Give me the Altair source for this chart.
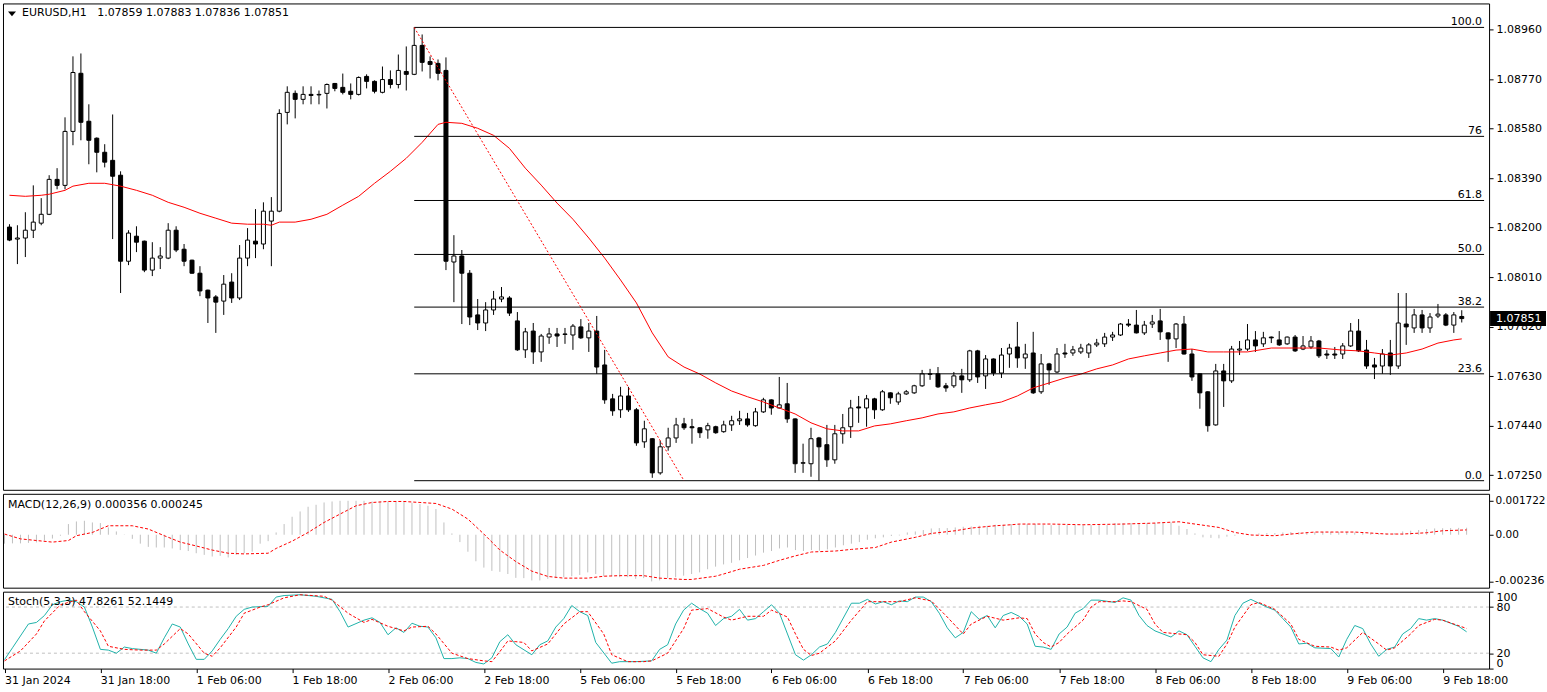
import altair as alt
import pandas as pd

# ---------------- data ----------------
open_ = [
    1.08202, 1.08156, 1.08160, 1.08190, 1.08217, 1.08251, 1.08385, 1.08362, 1.08569, 1.08792,
    1.08608, 1.08543, 1.08489, 1.08458, 1.08401, 1.08071, 1.08167, 1.08148, 1.08037, 1.08083,
    1.08083, 1.08190, 1.08117, 1.08075, 1.08025, 1.07960, 1.07934, 1.07918, 1.07991, 1.07930,
    1.08083, 1.08148, 1.08137, 1.08225, 1.08263, 1.08642, 1.08715, 1.08692, 1.08711, 1.08709,
    1.08715, 1.08753, 1.08738, 1.08723, 1.08711, 1.08780, 1.08761, 1.08719, 1.08768, 1.08749,
    1.08799, 1.08788, 1.08899, 1.08837, 1.08830, 1.08803, 1.08068, 1.08091, 1.08025, 1.07865,
    1.07834, 1.07884, 1.07926, 1.07930, 1.07842, 1.07731, 1.07803, 1.07723, 1.07780, 1.07792,
    1.07790, 1.07788, 1.07819, 1.07777, 1.07803, 1.07673, 1.07543, 1.07501, 1.07554, 1.07501,
    1.07378, 1.07390, 1.07259, 1.07359, 1.07393, 1.07447, 1.07436, 1.07432, 1.07424, 1.07436,
    1.07417, 1.07443, 1.07459, 1.07466, 1.07440, 1.07493, 1.07539, 1.07508, 1.07524, 1.07466,
    1.07296, 1.07294, 1.07393, 1.07367, 1.07309, 1.07409, 1.07436, 1.07512, 1.07508, 1.07543,
    1.07501, 1.07566, 1.07531, 1.07562, 1.07566, 1.07593, 1.07637, 1.07639, 1.07593, 1.07593,
    1.07631, 1.07616, 1.07727, 1.07631, 1.07696, 1.07642, 1.07715, 1.07742, 1.07700, 1.07719,
    1.07570, 1.07677, 1.07646, 1.07719, 1.07719, 1.07723, 1.07719, 1.07750, 1.07754, 1.07780,
    1.07788, 1.07830, 1.07826, 1.07796, 1.07830, 1.07842, 1.07796, 1.07773, 1.07830, 1.07715,
    1.07639, 1.07570, 1.07443, 1.07650, 1.07612, 1.07730, 1.07734, 1.07769, 1.07754, 1.07780,
    1.07769, 1.07754, 1.07780, 1.07734, 1.07742, 1.07765, 1.07715, 1.07715, 1.07715, 1.07746,
    1.07803, 1.07730, 1.07673, 1.07669, 1.07719, 1.07669, 1.07830, 1.07815, 1.07865, 1.07815,
    1.07861, 1.07865, 1.07826, 1.07859,
]
high = [
    1.08213, 1.08209, 1.08259, 1.08362, 1.08313, 1.08401, 1.08428, 1.08623, 1.08857, 1.08868,
    1.08673, 1.08546, 1.08520, 1.08634, 1.08416, 1.08190, 1.08205, 1.08150, 1.08144, 1.08125,
    1.08217, 1.08205, 1.08137, 1.08077, 1.08052, 1.07962, 1.07941, 1.08018, 1.08025, 1.08133,
    1.08198, 1.08271, 1.08297, 1.08317, 1.08654, 1.08742, 1.08726, 1.08742, 1.08742, 1.08726,
    1.08753, 1.08755, 1.08791, 1.08753, 1.08780, 1.08788, 1.08765, 1.08818, 1.08803, 1.08864,
    1.08895, 1.08968, 1.08941, 1.08857, 1.08845, 1.08853, 1.08171, 1.08114, 1.08037, 1.07926,
    1.07914, 1.07957, 1.07972, 1.07937, 1.07876, 1.07815, 1.07834, 1.07792, 1.07815, 1.07815,
    1.07815, 1.07830, 1.07849, 1.07834, 1.07861, 1.07731, 1.07562, 1.07589, 1.07589, 1.07508,
    1.07459, 1.07392, 1.07382, 1.07432, 1.07470, 1.07470, 1.07466, 1.07434, 1.07451, 1.07440,
    1.07459, 1.07478, 1.07497, 1.07489, 1.07508, 1.07547, 1.07541, 1.07627, 1.07604, 1.07468,
    1.07371, 1.07432, 1.07397, 1.07443, 1.07443, 1.07485, 1.07539, 1.07554, 1.07558, 1.07547,
    1.07577, 1.07568, 1.07570, 1.07577, 1.07597, 1.07654, 1.07658, 1.07665, 1.07604, 1.07646,
    1.07658, 1.07731, 1.07731, 1.07711, 1.07698, 1.07738, 1.07754, 1.07838, 1.07754, 1.07800,
    1.07715, 1.07681, 1.07738, 1.07754, 1.07746, 1.07754, 1.07757, 1.07773, 1.07796, 1.07800,
    1.07834, 1.07849, 1.07884, 1.07842, 1.07865, 1.07888, 1.07798, 1.07834, 1.07861, 1.07734,
    1.07641, 1.07572, 1.07677, 1.07677, 1.07746, 1.07765, 1.07830, 1.07803, 1.07800, 1.07782,
    1.07803, 1.07782, 1.07788, 1.07784, 1.07784, 1.07769, 1.07730, 1.07742, 1.07757, 1.07834,
    1.07849, 1.07769, 1.07700, 1.07734, 1.07769, 1.07949, 1.07949, 1.07888, 1.07884, 1.07872,
    1.07907, 1.07872, 1.07876, 1.07883,
]
low = [
    1.08148, 1.08060, 1.08087, 1.08160, 1.08209, 1.08248, 1.08347, 1.08347, 1.08516, 1.08535,
    1.08443, 1.08412, 1.08431, 1.08156, 1.07949, 1.08056, 1.08106, 1.08029, 1.08014, 1.08041,
    1.08079, 1.08106, 1.08052, 1.08023, 1.07937, 1.07834, 1.07796, 1.07865, 1.07911, 1.07922,
    1.08052, 1.08083, 1.08117, 1.08052, 1.08259, 1.08596, 1.08619, 1.08673, 1.08673, 1.08673,
    1.08657, 1.08723, 1.08711, 1.08692, 1.08707, 1.08734, 1.08715, 1.08715, 1.08734, 1.08734,
    1.08726, 1.08785, 1.08799, 1.08772, 1.08765, 1.08037, 1.07914, 1.07830, 1.07826, 1.07807,
    1.07803, 1.07865, 1.07914, 1.07861, 1.07727, 1.07700, 1.07677, 1.07685, 1.07754, 1.07742,
    1.07754, 1.07731, 1.07773, 1.07723, 1.07639, 1.07524, 1.07478, 1.07470, 1.07493, 1.07363,
    1.07355, 1.07240, 1.07252, 1.07344, 1.07374, 1.07424, 1.07371, 1.07393, 1.07390, 1.07409,
    1.07413, 1.07420, 1.07443, 1.07436, 1.07436, 1.07489, 1.07482, 1.07506, 1.07451, 1.07259,
    1.07259, 1.07244, 1.07229, 1.07282, 1.07294, 1.07371, 1.07393, 1.07451, 1.07436, 1.07466,
    1.07497, 1.07524, 1.07520, 1.07558, 1.07562, 1.07589, 1.07616, 1.07585, 1.07570, 1.07585,
    1.07566, 1.07608, 1.07604, 1.07581, 1.07631, 1.07623, 1.07662, 1.07662, 1.07658, 1.07562,
    1.07562, 1.07597, 1.07642, 1.07700, 1.07708, 1.07715, 1.07700, 1.07742, 1.07742, 1.07765,
    1.07784, 1.07819, 1.07794, 1.07788, 1.07815, 1.07769, 1.07685, 1.07738, 1.07713, 1.07612,
    1.07505, 1.07417, 1.07440, 1.07512, 1.07604, 1.07711, 1.07727, 1.07723, 1.07742, 1.07757,
    1.07746, 1.07750, 1.07723, 1.07730, 1.07734, 1.07700, 1.07696, 1.07696, 1.07696, 1.07742,
    1.07723, 1.07658, 1.07619, 1.07639, 1.07635, 1.07658, 1.07750, 1.07796, 1.07796, 1.07796,
    1.07853, 1.07822, 1.07796, 1.07836,
]
close = [
    1.08152, 1.08160, 1.08190, 1.08221, 1.08251, 1.08385, 1.08362, 1.08569, 1.08795, 1.08604,
    1.08535, 1.08489, 1.08451, 1.08397, 1.08071, 1.08179, 1.08144, 1.08037, 1.08083, 1.08091,
    1.08190, 1.08114, 1.08071, 1.08025, 1.07957, 1.07930, 1.07914, 1.07983, 1.07930, 1.08083,
    1.08152, 1.08137, 1.08263, 1.08263, 1.08638, 1.08719, 1.08692, 1.08711, 1.08707, 1.08711,
    1.08749, 1.08734, 1.08719, 1.08711, 1.08776, 1.08761, 1.08723, 1.08768, 1.08749, 1.08803,
    1.08788, 1.08899, 1.08834, 1.08826, 1.08792, 1.08071, 1.08091, 1.08025, 1.07857, 1.07834,
    1.07884, 1.07926, 1.07934, 1.07872, 1.07731, 1.07800, 1.07723, 1.07784, 1.07792, 1.07784,
    1.07792, 1.07822, 1.07777, 1.07803, 1.07665, 1.07539, 1.07497, 1.07554, 1.07501, 1.07374,
    1.07428, 1.07259, 1.07359, 1.07393, 1.07443, 1.07432, 1.07432, 1.07413, 1.07440, 1.07413,
    1.07443, 1.07459, 1.07466, 1.07443, 1.07493, 1.07539, 1.07508, 1.07520, 1.07466, 1.07294,
    1.07298, 1.07390, 1.07359, 1.07309, 1.07409, 1.07432, 1.07508, 1.07508, 1.07543, 1.07501,
    1.07570, 1.07547, 1.07562, 1.07570, 1.07593, 1.07639, 1.07639, 1.07589, 1.07585, 1.07631,
    1.07616, 1.07727, 1.07627, 1.07696, 1.07642, 1.07711, 1.07738, 1.07700, 1.07715, 1.07566,
    1.07677, 1.07654, 1.07715, 1.07715, 1.07731, 1.07738, 1.07750, 1.07757, 1.07780, 1.07788,
    1.07830, 1.07826, 1.07796, 1.07826, 1.07838, 1.07800, 1.07773, 1.07830, 1.07715, 1.07627,
    1.07566, 1.07440, 1.07650, 1.07612, 1.07734, 1.07734, 1.07769, 1.07746, 1.07777, 1.07777,
    1.07750, 1.07780, 1.07727, 1.07746, 1.07765, 1.07708, 1.07711, 1.07711, 1.07746, 1.07803,
    1.07727, 1.07669, 1.07665, 1.07715, 1.07669, 1.07834, 1.07819, 1.07865, 1.07815, 1.07857,
    1.07868, 1.07826, 1.07865, 1.07851,
]

# moving average (red solid line)
ma_bar = [0, 2, 4, 5, 7, 8, 10, 12, 14, 16, 18, 20, 22, 24, 26, 28, 30, 32, 33, 34,
          36, 38, 40, 42, 44, 46, 48, 50, 52, 54, 55, 57, 59, 61, 63, 65, 67, 69, 71, 73,
          75, 77, 79, 81, 83, 85, 87, 89, 91, 93, 95, 97, 99, 101, 103, 105, 107, 109, 111, 113,
          115, 117, 119, 121, 123, 125, 127, 129, 131, 133, 135, 137, 139, 141, 143, 145, 147, 149, 151, 153,
          156, 159, 162, 165, 168, 170, 172, 174, 176, 178, 180, 182, 183]
ma_price = [1.08324, 1.08320, 1.08324, 1.08328, 1.08343, 1.08359, 1.08370, 1.08370, 1.08359, 1.08343,
            1.08324, 1.08297, 1.08278, 1.08255, 1.08236, 1.08217, 1.08213, 1.08213, 1.08209, 1.08221,
            1.08221, 1.08232, 1.08251, 1.08286, 1.08320, 1.08370, 1.08416, 1.08466, 1.08527, 1.08596,
            1.08604, 1.08600, 1.08581, 1.08554, 1.08504, 1.08428, 1.08363, 1.08294, 1.08232, 1.08160,
            1.08083, 1.07999, 1.07911, 1.07796, 1.07704, 1.07665, 1.07638, 1.07604, 1.07573, 1.07551,
            1.07531, 1.07508, 1.07485, 1.07451, 1.07428, 1.07420, 1.07420, 1.07439, 1.07447, 1.07459,
            1.07470, 1.07485, 1.07493, 1.07508, 1.07520, 1.07531, 1.07554, 1.07585, 1.07604, 1.07623,
            1.07638, 1.07658, 1.07673, 1.07696, 1.07708, 1.07719, 1.07730, 1.07734, 1.07723, 1.07723,
            1.07723, 1.07738, 1.07738, 1.07738, 1.07730, 1.07727, 1.07719, 1.07711, 1.07719, 1.07734,
            1.07757, 1.07769, 1.07773]

# Fibonacci retracement
fib_labels = ["100.0", "76", "61.8", "50.0", "38.2", "23.6", "0.0"]
fib_prices = [1.08968, 1.08550, 1.08304, 1.08097, 1.07895, 1.07639, 1.07229]
fib_start_bar = 51
trend_bar = [51, 85]
trend_price = [1.08968, 1.07229]

# MACD(12,26,9): main (grey histogram) and signal (red dotted)
macd_main = [
    -0.000452, -0.000438, -0.000438, -0.000413, -0.000389, -0.000292, -0.000194, -0.000049, 0.000542, 0.000674,
    0.000709, 0.000623, 0.000592, 0.000370, 0.000167, 0.000015, -0.000209, -0.000452, -0.000617, -0.000646,
    -0.000646, -0.000694, -0.000777, -0.000825, -0.000937, -0.001020, -0.001103, -0.001069, -0.001151, -0.001020,
    -0.000937, -0.000860, -0.000452, -0.000325, 0.000116, 0.000542, 0.000912, 0.001180, 0.001419, 0.001520,
    0.001636, 0.001687, 0.001722, 0.001722, 0.001722, 0.001722, 0.001687, 0.001687, 0.001687, 0.001687,
    0.001671, 0.001620, 0.001555, 0.001469, 0.001302, 0.000623, 0.000066, -0.000373, -0.000860, -0.001345,
    -0.001665, -0.001831, -0.001880, -0.001991, -0.002186, -0.002200, -0.002316, -0.002316, -0.002234, -0.002200,
    -0.002151, -0.002103, -0.002040, -0.001908, -0.001991, -0.002103, -0.002103, -0.002151, -0.002151, -0.002234,
    -0.002200, -0.002365, -0.002316, -0.002200, -0.002151, -0.002074, -0.001991, -0.001908, -0.001748, -0.001618,
    -0.001505, -0.001423, -0.001296, -0.001180, -0.001054, -0.000908, -0.000825, -0.000694, -0.000646, -0.000777,
    -0.000825, -0.000777, -0.000811, -0.000743, -0.000646, -0.000534, -0.000452, -0.000373, -0.000257, -0.000180,
    -0.000131, -0.000063, -0.000034, 0.000116, 0.000167, 0.000239, 0.000319, 0.000339, 0.000339, 0.000370,
    0.000406, 0.000421, 0.000456, 0.000456, 0.000507, 0.000507, 0.000542, 0.000542, 0.000542, 0.000542,
    0.000491, 0.000491, 0.000491, 0.000491, 0.000491, 0.000491, 0.000491, 0.000491, 0.000491, 0.000592,
    0.000592, 0.000592, 0.000592, 0.000592, 0.000592, 0.000623, 0.000623, 0.000456, 0.000289, 0.000066,
    -0.000131, -0.000160, -0.000180, -0.000097, -0.000049, 0.000006, 0.000015, 0.000066, 0.000086, 0.000086,
    0.000116, 0.000137, 0.000137, 0.000137, 0.000137, 0.000137, 0.000137, 0.000137, 0.000137, 0.000116,
    0.000101, 0.000086, 0.000066, 0.000066, 0.000086, 0.000167, 0.000203, 0.000239, 0.000289, 0.000320,
    0.000330, 0.000340, 0.000348, 0.000356,
]
signal_bar = [0, 2, 4, 6, 8, 9, 11, 12, 13, 16,
              18, 20, 22, 24, 26, 28, 30, 33, 34, 36,
              38, 40, 42, 44, 46, 48, 50, 52, 54, 56,
              58, 60, 62, 64, 66, 68, 70, 73, 75, 77,
              80, 82, 85, 86, 89, 90, 92, 95, 97, 99,
              101, 104, 106, 109, 111, 114, 116, 119, 121, 124,
              126, 127, 131, 135, 140, 144, 147, 149, 152, 154,
              156, 159, 161, 164, 169, 173, 175, 178, 180, 183]
signal_val = [0.000036, -0.000209, -0.000292, -0.000373, -0.000292, -0.000049, 0.000116, 0.000289, 0.000456, 0.000456,
              0.000289, -0.000049, -0.000373, -0.000568, -0.000777, -0.000937, -0.000971, -0.000937, -0.000694, -0.000325,
              0.000116, 0.000623, 0.001049, 0.001469, 0.001636, 0.001687, 0.001687, 0.001636, 0.001586, 0.001302,
              0.000795, 0.000036, -0.000777, -0.001360, -0.001845, -0.002113, -0.002200, -0.002200, -0.002103, -0.002074,
              -0.002074, -0.002200, -0.002267, -0.002267, -0.002103, -0.001991, -0.001748, -0.001554, -0.001296, -0.001069,
              -0.000874, -0.000825, -0.000743, -0.000646, -0.000373, -0.000131, 0.000066, 0.000203, 0.000339, 0.000456,
              0.000507, 0.000542, 0.000542, 0.000507, 0.000542, 0.000592, 0.000658, 0.000542, 0.000370, 0.000116,
              -0.000014, -0.000049, 0.000036, 0.000137, 0.000137, 0.000036, 0.000036, 0.000101, 0.000203, 0.000245]

# Stochastic(5,3,3): %K (teal) and %D (red dotted)
stoch_k_bar = [0, 1, 3, 4, 5, 6, 7, 8, 9, 10,
               11, 12, 13, 14, 15, 16, 18, 19, 20, 21,
               22, 23, 24, 25, 26, 27, 28, 29, 30, 31,
               33, 34, 35, 37, 39, 41, 42, 43, 45, 46,
               47, 48, 49, 50, 51, 52, 53, 54, 55, 56,
               57, 58, 59, 60, 61, 62, 63, 64, 66, 67,
               68, 69, 70, 71, 72, 73, 74, 76, 77, 79,
               81, 82, 83, 84, 85, 86, 87, 88, 89, 90,
               91, 92, 93, 94, 95, 96, 97, 98, 99, 100,
               101, 102, 103, 104, 106, 107, 108, 109, 110, 111,
               112, 113, 114, 115, 116, 117, 118, 119, 120, 121,
               122, 123, 124, 125, 126, 127, 128, 129, 130, 131,
               132, 133, 134, 135, 136, 137, 139, 140, 141, 142,
               143, 144, 146, 147, 148, 149, 150, 151, 152, 153,
               154, 155, 156, 157, 158, 159, 160, 161, 162, 163,
               164, 166, 167, 168, 169, 170, 171, 172, 173, 174,
               175, 176, 177, 178, 179, 180, 182, 183]
stoch_k_val = [11.6, 27, 58, 60, 69, 83, 87, 89, 87, 80,
               54, 25, 24, 20, 28, 26, 24, 20, 40, 58,
               54, 32, 12, 12, 23, 38, 52, 68, 77, 80,
               81, 93, 95, 96, 94, 90, 74, 54, 63, 66,
               60, 44, 53, 47, 59, 55, 54, 40, 13, 13,
               14, 13, 8, 6, 14, 35, 44, 31, 18, 31,
               36, 54, 65, 82, 74, 69, 34, 7, 9, 9,
               10, 25, 31, 58, 76, 85, 78, 72, 56, 65,
               68, 77, 63, 65, 74, 83, 72, 45, 18, 11,
               18, 28, 32, 47, 85, 85, 90, 84, 87, 83,
               88, 87, 93, 93, 87, 72, 53, 40, 47, 74,
               64, 69, 53, 69, 73, 68, 58, 29, 28, 25,
               45, 54, 72, 78, 89, 89, 86, 92, 89, 69,
               56, 49, 41, 49, 44, 29, 14, 9, 25, 37,
               69, 85, 90, 85, 80, 76, 65, 54, 32, 33,
               27, 26, 15, 38, 56, 52, 32, 16, 25, 28,
               45, 52, 65, 63, 65, 63, 55, 47.8261]
stoch_d_bar = [0, 2, 4, 5, 7, 9, 10, 12, 13, 15,
               17, 19, 20, 22, 23, 25, 26, 27, 29, 30,
               32, 33, 35, 37, 40, 41, 43, 45, 46, 48,
               50, 51, 53, 54, 56, 58, 60, 61, 62, 63,
               64, 65, 66, 68, 70, 72, 73, 75, 76, 78,
               80, 81, 83, 85, 86, 88, 90, 91, 93, 95,
               96, 98, 99, 100, 101, 102, 104, 106, 108, 110,
               112, 114, 116, 118, 120, 121, 123, 125, 127, 128,
               129, 130, 131, 132, 133, 135, 136, 137, 139, 140,
               141, 143, 144, 145, 147, 148, 149, 150, 152, 153,
               154, 156, 157, 159, 161, 162, 164, 166, 167, 168,
               170, 172, 173, 174, 176, 177, 179, 180, 183]
stoch_d_val = [10, 23, 45, 62, 83, 89, 74, 49, 29, 25,
               24, 24, 32, 52, 45, 20, 16, 27, 54, 72,
               80, 83, 92, 96, 94, 89, 72, 60, 64, 55,
               49, 54, 55, 45, 20, 13, 10, 9, 22, 36,
               35, 34, 23, 32, 58, 74, 74, 45, 18, 9,
               9, 10, 20, 52, 76, 78, 67, 63, 68, 68,
               76, 67, 45, 25, 17, 20, 36, 63, 87, 87,
               87, 92, 88, 67, 45, 58, 68, 63, 66, 65,
               45, 34, 28, 34, 45, 63, 80, 87, 87, 88,
               87, 77, 58, 47, 45, 44, 34, 18, 16, 32,
               54, 83, 86, 77, 58, 38, 29, 28, 24, 27,
               47, 32, 24, 27, 45, 56, 64, 63, 52.1449]
stoch_levels = [20, 80]

# axes
price_ticks = [1.07250, 1.07440, 1.07630, 1.07820, 1.08010, 1.08200, 1.08390, 1.08580, 1.08770, 1.08960]
macd_ticks = [-0.002365, 0.0, 0.001722]
macd_min_label = "-0.002365"
stoch_ticks = [0, 20, 80, 100]
time_tick_bars = [0, 12, 24, 36, 48, 60, 72, 84, 96, 108, 120, 132, 144, 156, 168, 180]
time_labels = ["31 Jan 2024", "31 Jan 18:00", "1 Feb 06:00", "1 Feb 18:00", "2 Feb 06:00",
               "2 Feb 18:00", "5 Feb 06:00", "5 Feb 18:00", "6 Feb 06:00", "6 Feb 18:00",
               "7 Feb 06:00", "7 Feb 18:00", "8 Feb 06:00", "8 Feb 18:00", "9 Feb 06:00",
               "9 Feb 18:00"]

main_title = "EURUSD,H1\u00a0\u00a0 1.07859 1.07883 1.07836 1.07851"
macd_title = "MACD(12,26,9) 0.000356 0.000245"
stoch_title = "Stoch(5,3,3) 47.8261 52.1449"

n = len(close)
assert len(open_) == n and len(high) == n and len(low) == n and len(macd_main) == n
assert len(ma_bar) == len(ma_price)
assert len(signal_bar) == len(signal_val)
assert len(stoch_k_bar) == len(stoch_k_val)
assert len(stoch_d_bar) == len(stoch_d_val)

# ---------------- tables ----------------
candles = pd.DataFrame({"bar": list(range(n)), "open": open_, "high": high,
                        "low": low, "close": close})
candles["dir"] = ["up" if c >= o else "down" for o, c in zip(open_, close)]
ma_df = pd.DataFrame({"bar": ma_bar, "price": ma_price})
X_END = 185.8125
fib_df = pd.DataFrame({"bar": [fib_start_bar] * len(fib_prices), "bar_end": [X_END] * len(fib_prices),
                       "price": fib_prices, "label": fib_labels})
trend_df = pd.DataFrame({"bar": trend_bar, "price": trend_price})
last_df = candles.tail(1)
macd_df = pd.DataFrame({"bar": list(range(n)), "macd": macd_main, "zero": [0.0] * n})
sig_df = pd.DataFrame({"bar": signal_bar, "val": signal_val})
k_df = pd.DataFrame({"bar": stoch_k_bar, "val": stoch_k_val})
d_df = pd.DataFrame({"bar": stoch_d_bar, "val": stoch_d_val})
lvl_df = pd.DataFrame({"lvl": stoch_levels})
macd_min_df = pd.DataFrame({"v": [macd_ticks[0]], "t": [macd_min_label]})

FONT = "DejaVu Sans"
W = 1488
X_SCALE = alt.Scale(domain=[-0.1875, X_END], nice=False, zero=False)


def xq(field="bar", axis=None):
    return alt.X(f"{field}:Q", scale=X_SCALE, axis=axis)


# ---------------- main price panel ----------------
Y_MAIN = alt.Scale(domain=[1.07194, 1.09060], nice=False, zero=False)
main_axis = alt.Axis(orient="right", values=price_ticks, format=".5f", tickSize=4,
                     labelPadding=3, domain=False, grid=False, title=None)


def ym(field):
    return alt.Y(f"{field}:Q", scale=Y_MAIN, axis=main_axis)


wicks = alt.Chart(candles).mark_rule(color="black", strokeWidth=1).encode(
    x=xq(), y=ym("low"), y2="high:Q")
bodies = alt.Chart(candles).mark_bar(size=4, stroke="black", strokeWidth=1, opacity=1).encode(
    x=xq(), y=ym("open"), y2="close:Q",
    fill=alt.Fill("dir:N", scale=alt.Scale(domain=["up", "down"], range=["white", "black"]), legend=None))
ma_line = alt.Chart(ma_df).mark_line(color="#ff0000", strokeWidth=1).encode(x=xq(), y=ym("price"))
fib_rules = alt.Chart(fib_df).mark_rule(color="black", strokeWidth=1).encode(
    x=xq("bar"), x2="bar_end:Q", y=ym("price"))
fib_text = alt.Chart(fib_df).mark_text(align="right", baseline="alphabetic", dx=-2, dy=-2,
                                       font=FONT, fontSize=11, color="black").encode(
    x=xq("bar_end"), y=ym("price"), text="label:N")
trend = alt.Chart(trend_df).mark_line(color="#ff0000", strokeWidth=1, strokeDash=[2, 2]).encode(
    x=xq(), y=ym("price"))
title_txt = alt.Chart(pd.DataFrame({"t": [main_title]})).mark_text(
    align="left", baseline="middle", font=FONT, fontSize=11, color="black").encode(
    x=alt.value(19), y=alt.value(10), text="t:N")
tri = alt.Chart(pd.DataFrame({"t": [1]})).mark_point(
    shape="M-1,-0.6L1,-0.6L0,0.6Z", size=64, filled=True, color="black", opacity=1, strokeWidth=0).encode(
    x=alt.value(9), y=alt.value(10.5))
price_box = alt.Chart(last_df).mark_point(
    shape="M-1,-0.27L1,-0.27L1,0.27L-1,0.27Z", size=3136, filled=True, color="black",
    opacity=1, strokeWidth=0).encode(x=alt.value(1517), y=ym("close"))
price_box_txt = alt.Chart(last_df).mark_text(
    align="left", baseline="middle", font=FONT, fontSize=11, color="white").encode(
    x=alt.value(1495), y=ym("close"), text=alt.Text("close:Q", format=".5f"))

main = alt.layer(wicks, bodies, ma_line, fib_rules, fib_text, trend, title_txt, tri,
                 price_box, price_box_txt).properties(width=W, height=487)

# ---------------- MACD panel ----------------
Y_MACD = alt.Scale(domain=[-0.002684, 0.002076], nice=False, zero=False)
macd_axis = alt.Axis(orient="right", values=macd_ticks,
                     labelExpr="datum.value < 0 ? '' : (datum.value == 0 ? '0.00' : format(datum.value, '.6f'))",
                     labelFontSize=10.5, labelOverlap=False, tickSize=4, labelPadding=2,
                     domain=False, grid=False, title=None)
hist = alt.Chart(macd_df).mark_rule(color="#c0c0c0", strokeWidth=1).encode(
    x=xq(), y=alt.Y("macd:Q", scale=Y_MACD, axis=macd_axis), y2="zero:Q")
sig = alt.Chart(sig_df).mark_line(color="#ff0000", strokeWidth=1, strokeDash=[3, 2]).encode(
    x=xq(), y=alt.Y("val:Q", scale=Y_MACD, axis=macd_axis))
# the reference window cuts this label at its right edge
macd_min_txt = alt.Chart(macd_min_df).mark_text(
    align="left", baseline="middle", font=FONT, fontSize=11, color="black",
    limit=51, ellipsis="\u200b").encode(
    x=alt.value(1494), y=alt.Y("v:Q", scale=Y_MACD, axis=macd_axis), text="t:N")
macd_txt = alt.Chart(pd.DataFrame({"t": [macd_title]})).mark_text(
    align="left", baseline="middle", font=FONT, fontSize=11, color="black").encode(
    x=alt.value(5), y=alt.value(11), text="t:N")
macd = alt.layer(hist, sig, macd_min_txt, macd_txt).properties(width=W, height=94)

# ---------------- Stochastic panel ----------------
labels_js = "[" + ",".join("'" + s + "'" for s in time_labels) + "]"
time_axis = alt.Axis(values=time_tick_bars, labelExpr=labels_js + "[round(datum.value / 12)]",
                     labelAlign="left", labelFlush=False, labelOverlap=False, tickSize=4,
                     labelPadding=2, domain=False, grid=False, title=None)
Y_ST = alt.Scale(domain=[0, 100], nice=False, zero=False)
st_axis = alt.Axis(orient="right", values=stoch_ticks, labelFlush=True, labelOverlap=False,
                   tickSize=4, labelPadding=3, domain=False, grid=False, title=None)
lv = alt.Chart(lvl_df).mark_rule(color="#c0c0c0", strokeWidth=1, strokeDash=[3, 3]).encode(
    y=alt.Y("lvl:Q", scale=Y_ST, axis=st_axis))
kl = alt.Chart(k_df).mark_line(color="#20b2aa", strokeWidth=1).encode(
    x=xq(axis=time_axis), y=alt.Y("val:Q", scale=Y_ST, axis=st_axis))
dl = alt.Chart(d_df).mark_line(color="#ff0000", strokeWidth=1, strokeDash=[3, 2]).encode(
    x=xq(axis=time_axis), y=alt.Y("val:Q", scale=Y_ST, axis=st_axis))
st_txt = alt.Chart(pd.DataFrame({"t": [stoch_title]})).mark_text(
    align="left", baseline="middle", font=FONT, fontSize=11, color="black").encode(
    x=alt.value(5), y=alt.value(10), text="t:N")
stoch = alt.layer(lv, kl, dl, st_txt).properties(width=W, height=77)

chart = alt.vconcat(main, macd, stoch, spacing=4, bounds="flush").properties(
    padding={"left": 2, "top": 2, "right": 0, "bottom": 0},
    background="white",
).configure_view(stroke="black", strokeWidth=1).configure_axis(
    labelFont=FONT, labelFontSize=11, labelColor="black", tickColor="black", tickWidth=1
).configure_text(font=FONT)

chart.save("out.html", embed_options={"renderer": "svg", "actions": False})
